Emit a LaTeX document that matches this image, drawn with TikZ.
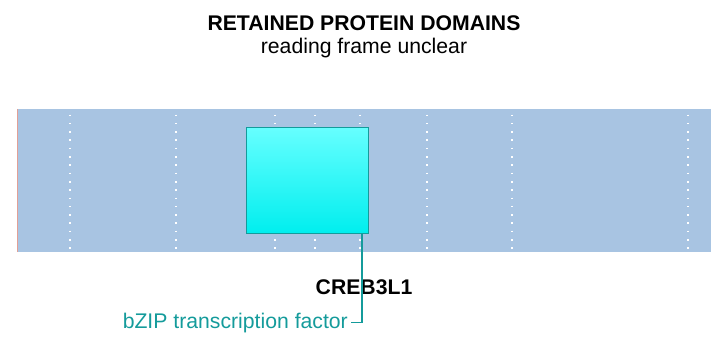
\documentclass[tikz,border=0pt]{standalone}
\usepackage{fontspec}
\setmainfont{Liberation Sans}
\usepackage{xcolor}
\usetikzlibrary{positioning}

\definecolor{bandblue}{RGB}{168,196,226}
\definecolor{domaintop}{RGB}{102,255,255}
\definecolor{domainbot}{RGB}{0,238,238}
\definecolor{domainedge}{RGB}{20,155,155}
\definecolor{labelteal}{RGB}{20,155,155}
\definecolor{bandedge}{RGB}{226,160,150}

\begin{document}
\begin{tikzpicture}[x=1pt, y=-1pt,
    every node/.style={font=\fontsize{21.2}{25}\selectfont, inner sep=0pt},
    domainbox/.style={draw=domainedge, line width=1.8pt, top color=domaintop,
        bottom color=domainbot, minimum width=122pt, minimum height=106pt},
    gridline/.style={white, line width=1.6pt, dash pattern=on 1.6pt off 6.7pt},
    link/.style={labelteal, line width=1.5pt}]
    \useasboundingbox (0,0) rectangle (719,342);

    % title
    \node[anchor=base, font=\fontsize{21.2}{25}\selectfont\bfseries] (title) at (364,30.7) {RETAINED PROTEIN DOMAINS};
    \node[anchor=base] (subtitle) at (364,53.3) {reading frame unclear};

    % gene band
    \fill[bandblue] (17,109) rectangle (711,252);
    \draw[bandedge, line width=0.8pt] (17.4,109) -- (17.4,252);
    \foreach \xpos in {70, 176, 275, 315, 360, 427, 512, 688} {
        \draw[gridline] (\xpos,114.5) -- (\xpos,252);
    }

    % retained domain
    \node[domainbox] (bzip) at (307.5,180.5) {};
    \node[anchor=base, font=\fontsize{21.2}{25}\selectfont\bfseries] (gene) at (364,294) {CREB3L1};
    \node[anchor=base east, text=labelteal, inner xsep=3pt] (bziplabel) at (351,328) {bZIP transcription factor};
    \coordinate (tap) at (362,0);
    \draw[link] (bzip.south -| tap) |- (bziplabel.east);
\end{tikzpicture}
\end{document}
